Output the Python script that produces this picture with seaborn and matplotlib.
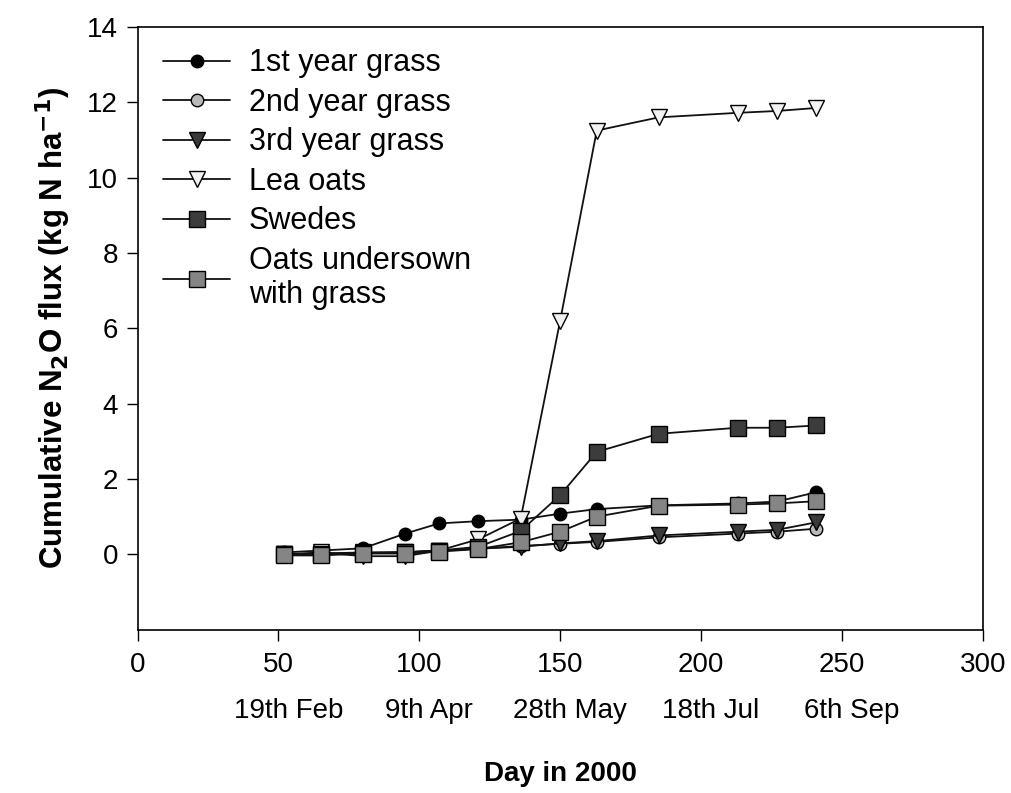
import matplotlib
matplotlib.use("Agg")
import matplotlib.pyplot as plt
import matplotlib.transforms as mtransforms
import seaborn as sns

days = [52, 65, 80, 95, 107, 121, 136, 150, 163, 185, 213, 227, 241]

grass_1st = [0.05, 0.1, 0.16, 0.55, 0.82, 0.88, 0.92, 1.08, 1.2, 1.3, 1.35, 1.4, 1.65]
grass_2nd = [0.0, 0.02, 0.04, 0.06, 0.1, 0.15, 0.22, 0.28, 0.33, 0.45, 0.55, 0.6, 0.68]
grass_3rd = [0.0, 0.02, 0.05, 0.05, 0.1, 0.15, 0.2, 0.29, 0.35, 0.5, 0.6, 0.65, 0.85]
lea_oats = [0.0, 0.05, -0.05, -0.05, 0.1, 0.4, 0.95, 6.2, 11.25, 11.6, 11.72, 11.77, 11.85]
swedes = [0.0, 0.0, 0.03, 0.05, 0.1, 0.2, 0.62, 1.57, 2.72, 3.2, 3.36, 3.36, 3.42]
oats_undersown = [-0.03, -0.03, 0.02, 0.02, 0.07, 0.14, 0.32, 0.6, 1.0, 1.29, 1.32, 1.35, 1.41]

series = [
    ("1st year grass", grass_1st, "o", "black", 9),
    ("2nd year grass", grass_2nd, "o", "#b8b8b8", 9),
    ("3rd year grass", grass_3rd, "v", "#3a3a3a", 11),
    ("Lea oats", lea_oats, "v", "#f2f2f2", 11),
    ("Swedes", swedes, "s", "#3c3c3c", 11),
    ("Oats undersown\nwith grass", oats_undersown, "s", "#858585", 11),
]

x_ticks = [0, 50, 100, 150, 200, 250, 300]
date_ticks = [50, 100, 150, 200, 250]
date_labels = ["19th Feb", "9th Apr", "28th May", "18th Jul", "6th Sep"]
y_ticks = [0, 2, 4, 6, 8, 10, 12, 14]

sns.set_style("white")
plt.rcParams["font.family"] = ["Liberation Sans", "DejaVu Sans"]
plt.rcParams["text.color"] = "black"
plt.rcParams["axes.labelcolor"] = "black"
plt.rcParams["xtick.color"] = "black"
plt.rcParams["ytick.color"] = "black"

fig = plt.figure(figsize=(10.12, 7.93), dpi=100)
ax = fig.add_axes([0.136, 0.206, 0.835, 0.760])

for name, vals, mk, fc, ms in series:
    sns.lineplot(x=days, y=vals, ax=ax, color="#111111", linewidth=1.3,
                 marker=mk, markersize=ms, markerfacecolor=fc,
                 markeredgecolor="black", markeredgewidth=1.0, label=name)

ax.set_xlim(0, 300)
ax.set_ylim(-2, 14)
ax.xaxis.remove_overlapping_locs = False
ax.set_xticks(x_ticks)
ax.set_xticklabels([str(t) for t in x_ticks], fontsize=20)
ax.set_xticks(date_ticks, minor=True)
ax.set_xticklabels(date_labels, minor=True, fontsize=20)
ax.set_yticks(y_ticks)
ax.set_yticklabels([str(t) for t in y_ticks], fontsize=20)

ax.tick_params(axis="x", which="major", bottom=True, direction="out",
               length=8, width=1, pad=8, colors="black")
ax.tick_params(axis="x", which="minor", bottom=True, labelbottom=True,
               length=0, pad=49, colors="black")
ax.tick_params(axis="y", left=True, direction="out", length=8, width=1,
               pad=6, colors="black")
shift = mtransforms.ScaledTranslation(10 / 100, 0, fig.dpi_scale_trans)
for lab in ax.xaxis.get_minorticklabels():
    lab.set_transform(lab.get_transform() + shift)

for sp in ax.spines.values():
    sp.set_visible(True)
    sp.set_color("black")
    sp.set_linewidth(1.2)

ax.set_xlabel("Day in 2000", fontsize=20, fontweight="bold")
ax.xaxis.set_label_coords(0.5, -0.218)
ax.set_ylabel(r"Cumulative N$_\mathbf{2}$O flux (kg N ha$^\mathbf{-1}$)",
              fontsize=22.5, fontweight="bold", labelpad=10)

ax.legend(loc="upper left", frameon=False, fontsize=22, handlelength=2.2,
          handletextpad=0.6, labelspacing=0.31, borderaxespad=0.3,
          bbox_to_anchor=(0.005, 1.0))

fig.savefig("out.png", dpi=100)
